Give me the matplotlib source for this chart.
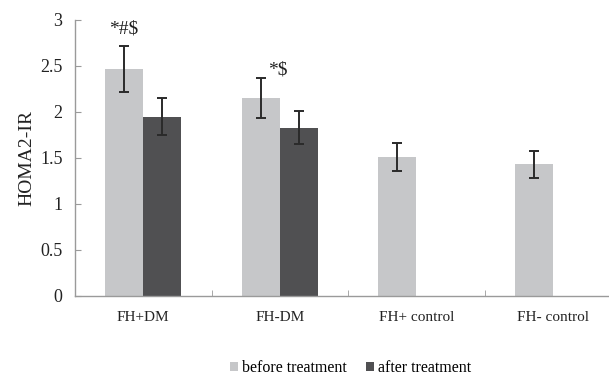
import matplotlib
matplotlib.use("Agg")
import matplotlib.pyplot as plt
import numpy as np

groups = ["FH+DM", "FH-DM", "FH+ control", "FH- control"]
before = [2.47, 2.15, 1.51, 1.43]
before_err = [0.25, 0.22, 0.15, 0.15]
after = [1.95, 1.83, None, None]
after_err = [0.20, 0.18, None, None]
marks = ["*#\\$", "*\\$", "", ""]

plt.rcParams["font.family"] = ["Liberation Serif", "DejaVu Serif"]

LIGHT = "#c6c7c9"
DARK = "#505052"
AXIS = "#9a9a9a"
INK = "#222222"

fig = plt.figure(figsize=(6.09, 3.76), dpi=100)
ax = fig.add_axes([75 / 609, 80 / 376, 546 / 609, 276 / 376])

x = np.arange(len(groups))
w = 0.28
ekw = dict(ecolor="#2a2a2a", elinewidth=1.4, capsize=3.5, capthick=1.4)
ax.bar(x - w / 2, before, w, color=LIGHT, yerr=before_err, error_kw=ekw,
       label="before treatment")
ax_x = [xi + w / 2 for xi, v in zip(x, after) if v is not None]
ax_v = [v for v in after if v is not None]
ax_e = [e for e in after_err if e is not None]
ax.bar(ax_x, ax_v, w, color=DARK, yerr=ax_e, error_kw=ekw,
       label="after treatment")

# significance marks (x shift, gap above the error bar)
mark_dx = [0.0, 0.125, 0, 0]
mark_dy = [0.13, 0.04, 0, 0]
for xi, b, e, m, dx, dy in zip(x, before, before_err, marks, mark_dx, mark_dy):
    if m:
        ax.text(xi - w / 2 + dx, b + e + dy, m, ha="center", va="baseline",
                fontsize=14, color=INK)

ax.set_xlim(-0.5, 3.5)
ax.set_ylim(0, 3)
ax.set_yticks(np.arange(0, 3.01, 0.5))
ax.set_yticklabels(["0", "0.5", "1", "1.5", "2", "2.5", "3"])
ax.set_xticks(x)
ax.set_xticklabels(groups)
ax.set_xticks(np.arange(0.5, 3.5, 1), minor=True)
ax.tick_params(axis="x", which="major", length=0, pad=11, labelsize=11, colors=INK)
ax.tick_params(axis="x", which="minor", direction="in", length=4, color=AXIS)
ax.tick_params(axis="y", direction="in", length=4, color=AXIS, pad=9,
               labelsize=13, labelcolor=INK)
for s in ["top", "right"]:
    ax.spines[s].set_visible(False)
for s in ["left", "bottom"]:
    ax.spines[s].set_color(AXIS)
    ax.spines[s].set_linewidth(1)
ax.set_ylabel("HOMA2-IR", fontsize=14, color=INK, labelpad=3)

fig.legend(loc="center", bbox_to_anchor=(351 / 609, 1 - 368 / 376), ncol=2,
           frameon=False, fontsize=11.5, handlelength=0.45, handleheight=0.45,
           columnspacing=1.2, handletextpad=0.3)

fig.savefig("out.png", dpi=100)
